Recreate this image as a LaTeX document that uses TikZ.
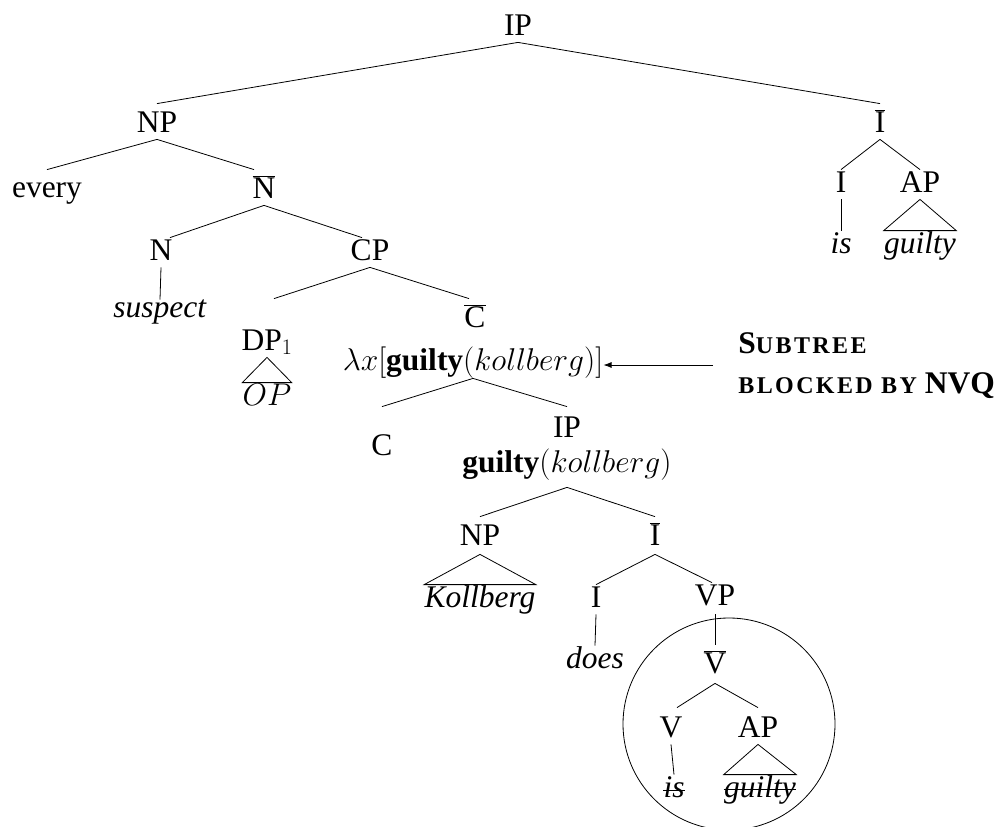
\RequirePackage{fix-cm}
\documentclass[tikz,border=0pt]{standalone}
\usepackage[no-math]{fontspec}
\setmainfont{Liberation Serif}
\newfontfamily\scfont[LetterSpace=10]{Liberation Serif}
\usetikzlibrary{arrows.meta,calc}
\newcommand{\barlab}[1]{$\overline{\mbox{#1}}$}
\newcommand{\smcap}{\fontsize{24}{28}\selectfont}
\begin{document}
\begin{tikzpicture}[x=1pt,y=-1pt,line width=0.8pt,
  tn/.style={anchor=base,inner sep=0pt,text height=22pt,text depth=7pt,font=\fontsize{31.5}{38}\selectfont},
  bn/.style={tn,text height=28pt},
  lbl/.style={anchor=base west,inner sep=0pt,font=\bfseries\fontsize{31.5}{38}\selectfont}]
\useasboundingbox (0,0) rectangle (1007,827);
% nodes
\node[tn] (IP0) at (518,35) {IP};
\node[tn] (NP1) at (157,132) {NP};
\node[bn] (Ib1) at (880,132) {\barlab{I}};
\node[tn] (every) at (47,197) {every};
\node[bn] (Nb) at (264,198) {\barlab{N}};
\node[tn] (I2) at (841,192) {I};
\node[tn] (AP2) at (920,192) {AP};
\node[tn] (is2) at (841,253) {\textit{is}};
\node[tn] (gu2) at (920,253) {\textit{guilty}};
\node[tn] (N) at (161,260) {N};
\node[tn] (CP) at (370,260) {CP};
\node[tn,text height=17pt] (sus) at (160,317) {\textit{suspect}};
\node[tn] (DP) at (267,350) {DP$_1$};
\node[tn] (OP) at (267,405) {$OP$};
\node[bn] (Cb) at (475,327) {\barlab{C}};
\node[tn,text depth=8pt] (Cs) at (473,370) {$\lambda x[\textbf{guilty}(kollberg)]$};
\node[tn] (C) at (382,455) {C};
\node[tn,text height=30pt] (IP2) at (567,437) {IP};
\node[tn,text depth=15pt] (IPs) at (567,472) {$\textbf{guilty}(kollberg)$};
\node[tn,text depth=9pt] (NP3) at (480,545) {NP};
\node[bn,text depth=9pt] (Ib3) at (655,545) {\barlab{I}};
\node[tn] (Kol) at (480,607) {\textit{Kollberg}};
\node[tn] (I4) at (596,607) {I};
\node[tn,text depth=9pt] (VP) at (715,605) {VP};
\node[tn] (does) at (595,668) {\textit{does}};
\node[bn,text depth=10pt] (Vb) at (715,673) {\barlab{V}};
\node[tn,text height=29pt] (V) at (671,737) {V};
\node[tn,text height=29pt] (AP5) at (758,737) {AP};
\node[tn] (is5) at (674,797) {\textit{is}};
\node[tn] (gu5) at (760,797) {\textit{guilty}};
\node[lbl] (lbl1) at (738,353) {S{\scfont\bfseries\smcap UBTREE}};
\node[lbl] (lbl2) at (738,393) {{\scfont\bfseries\smcap BLOCKED BY} NVQ};
\coordinate (tail) at (713,365);
% edges
\draw (IP0.south) -- (NP1.north |- Ib1.north);
\draw (IP0.south) -- (Ib1.north);
\draw (NP1.south) -- (every.north |- Nb.north);
\draw (NP1.south) -- ($(Nb.north)+(-10,0)$);
\draw (Nb.south) -- ($(N.north)+(9,0)$);
\draw (Nb.south) -- ($(CP.north)+(-8,0)$);
\draw (N.south) -- (sus.north);
\draw (CP.south) -- ($(DP.north |- Cb.north)+(7,0)$);
\draw (CP.south) -- ($(Cb.north)+(-6,0)$);
\draw (DP.south) -- (OP.north west) -- (OP.north east) -- cycle;
\draw (Cs.south) -- (C.north |- IP2.north);
\draw (Cs.south) -- (IP2.north);
\draw (IPs.south) -- (NP3.north |- Ib3.north);
\draw (IPs.south) -- (Ib3.north);
\draw (NP3.south) -- (Kol.north west) -- (Kol.north east) -- cycle;
\draw (Ib3.south) -- (I4.north);
\draw (Ib3.south) -- ($(VP.north)+(-3,0)$);
\draw (I4.south) -- (does.north);
\draw (VP.south) -- (Vb.north);
\draw (Vb.south) -- ($(V.north)+(6,0)$);
\draw (Vb.south) -- (AP5.north);
\draw (V.south) -- (is5.north);
\draw (AP5.south) -- (gu5.north west) -- (gu5.north east) -- cycle;
\draw (Ib1.south) -- (I2.north);
\draw (Ib1.south) -- (AP2.north);
\draw (I2.south) -- (is2.north);
\draw (AP2.south) -- (gu2.north west) -- (gu2.north east) -- cycle;
% strike-through
\draw ($(is5.base west)+(0,-7)$) -- ($(is5.base east)+(0,-7)$);
\draw ($(gu5.base west)+(0,-8)$) -- ($(gu5.base east)+(0,-8)$);
% circle around blocked subtree
\draw (729,724) circle[radius=106pt];
% arrow
\draw[-{Latex[length=8pt,width=6pt]}] (tail) -- (Cs.east |- tail);
\end{tikzpicture}
\end{document}
